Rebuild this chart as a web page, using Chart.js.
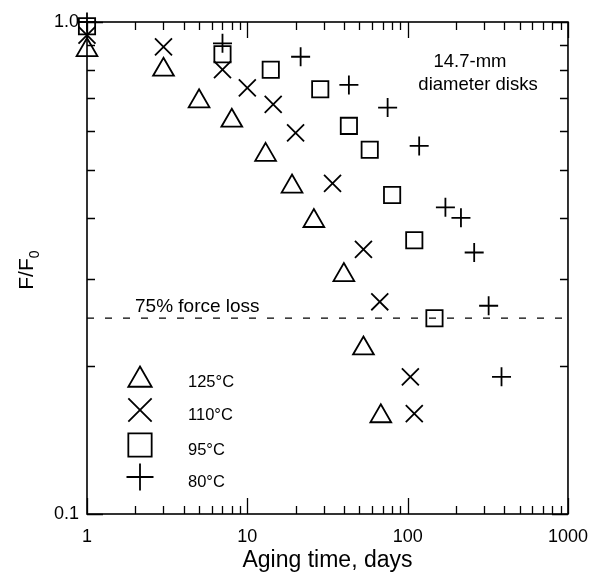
<!DOCTYPE html>
<html>
<head>
<meta charset="utf-8">
<script src="https://cdn.jsdelivr.net/npm/chart.js@4.4.1/dist/chart.umd.min.js"></script>
<style>
  html, body { margin: 0; padding: 0; background: #fff; }
  #wrap { width: 600px; height: 576px; }
</style>
</head>
<body>
<div id="wrap"><canvas id="agingChart"></canvas></div>
<script>
  // ---- data ----
  const seriesNames = ['125°C', '110°C', '95°C', '80°C'];

  const days125 = [1, 3, 5, 8, 13, 19, 26, 40, 53, 68];
  const ratio125 = [0.877, 0.80, 0.69, 0.63, 0.537, 0.463, 0.394, 0.306, 0.217, 0.158];

  const days110 = [1, 3, 7, 10, 14.5, 20, 34, 53, 67, 104, 110];
  const ratio110 = [0.94, 0.89, 0.80, 0.735, 0.68, 0.595, 0.47, 0.345, 0.27, 0.19, 0.16];

  const days95 = [1, 7, 14, 28.5, 43, 58, 80, 110, 147];
  const ratio95 = [0.98, 0.86, 0.80, 0.73, 0.615, 0.55, 0.445, 0.36, 0.25];

  const days80 = [1, 7, 21.5, 43, 75, 118, 172, 215, 260, 320, 385];
  const ratio80 = [1.0, 0.905, 0.85, 0.745, 0.67, 0.56, 0.42, 0.40, 0.34, 0.265, 0.19];

  const forceLossLevel = 0.25;
  const xTickLabels = ['1', '10', '100', '1000'];
  const yTickLabels = ['0.1', '1.0'];

  const pairs = (xs, ys) => xs.map((v, i) => ({ x: v, y: ys[i] }));

  // log ticks 1..9 per decade
  function logTicks(min, max) {
    const out = [];
    for (let dec = min; dec < max - 1e-9; dec *= 10) {
      for (let m = 1; m < 10; m++) out.push(+(dec * m).toPrecision(6));
    }
    out.push(max);
    return out;
  }
  const isMajor = v => Math.abs(Math.log10(v) - Math.round(Math.log10(v))) < 1e-6;

  const FONT = "'Liberation Sans', Arial, Helvetica, sans-serif";
  const markerStyles = ['triangle', 'crossRot', 'rect', 'cross'];
  const markerSizes = [12, 12, 11.5, 9.5];
  const legendSizes = [13.5, 16.5, 16.5, 13.5];

  /* ---------- inward ticks + frame ---------- */
  const frameTicks = {
    id: 'frameTicks',
    afterDraw(chart) {
      const { ctx, chartArea: a, scales: { x, y } } = chart;
      ctx.save();
      ctx.strokeStyle = '#000';
      ctx.lineWidth = 1.3;
      ctx.beginPath();
      x.ticks.forEach(t => {
        const px = Math.round(x.getPixelForValue(t.value)) + 0.5;
        const len = isMajor(t.value) ? 16 : 8;
        ctx.moveTo(px, a.bottom); ctx.lineTo(px, a.bottom - len);
        ctx.moveTo(px, a.top); ctx.lineTo(px, a.top + len);
      });
      y.ticks.forEach(t => {
        const py = Math.round(y.getPixelForValue(t.value)) + 0.5;
        const len = isMajor(t.value) ? 16 : 8;
        ctx.moveTo(a.left, py); ctx.lineTo(a.left + len, py);
        ctx.moveTo(a.right, py); ctx.lineTo(a.right - len, py);
      });
      ctx.stroke();
      ctx.lineWidth = 1.6;
      ctx.strokeRect(a.left, a.top, a.right - a.left, a.bottom - a.top);
      ctx.restore();
    }
  };

  /* ---------- texts, legend, y title ---------- */
  const annotations = {
    id: 'annotations',
    afterDraw(chart) {
      const { ctx, chartArea: a } = chart;
      ctx.save();
      ctx.fillStyle = '#000';
      ctx.textBaseline = 'middle';

      // note top right
      ctx.font = '18.5px ' + FONT;
      ctx.textAlign = 'center';
      ctx.fillText('14.7-mm', a.left + 383, a.top + 40);
      ctx.fillText('diameter disks', a.left + 391, a.top + 63);

      // dashed line label
      ctx.textAlign = 'left';
      ctx.font = '19px ' + FONT;
      ctx.fillText('75% force loss', a.left + 48, a.top + 285);

      // legend
      const rows = [a.top + 355, a.top + 388, a.top + 423, a.top + 455];
      ctx.font = '16.5px ' + FONT;
      seriesNames.forEach((name, i) => {
        ctx.strokeStyle = '#000';
        ctx.fillStyle = 'rgba(0,0,0,0)';
        Chart.helpers.drawPoint(ctx, {
          pointStyle: markerStyles[i], radius: legendSizes[i], rotation: 0, borderWidth: 1.8
        }, a.left + 53, rows[i] + (i === 0 ? 3 : 0));
        ctx.fillStyle = '#000';
        ctx.fillText(name, a.left + 101, rows[i] + 5);
      });

      // y axis title F/F0
      ctx.save();
      ctx.translate(33, 270);
      ctx.rotate(-Math.PI / 2);
      ctx.textAlign = 'left';
      ctx.textBaseline = 'alphabetic';
      ctx.font = '21px ' + FONT;
      const w = ctx.measureText('F/F').width;
      ctx.fillText('F/F', -w / 2 - 4, 0);
      ctx.font = '14px ' + FONT;
      ctx.fillText('0', w / 2 - 4, 6);
      ctx.restore();

      ctx.restore();
    }
  };

  const scatterSet = (label, xs, ys, i) => ({
    type: 'scatter',
    label,
    data: pairs(xs, ys),
    pointStyle: markerStyles[i],
    pointRadius: markerSizes[i],
    pointHoverRadius: markerSizes[i],
    pointBorderWidth: 1.8,
    pointHoverBorderWidth: 1.8,
    borderColor: '#000',
    backgroundColor: 'rgba(0,0,0,0)',
    clip: false
  });

  new Chart(document.getElementById('agingChart'), {
    data: {
      datasets: [
        {
          type: 'line',
          label: '75% force loss',
          data: [{ x: 1, y: forceLossLevel }, { x: 1000, y: forceLossLevel }],
          borderColor: '#000', borderWidth: 1.2, borderDash: [7, 11],
          pointRadius: 0, fill: false
        },
        scatterSet(seriesNames[0], days125, ratio125, 0),
        scatterSet(seriesNames[1], days110, ratio110, 1),
        scatterSet(seriesNames[2], days95, ratio95, 2),
        scatterSet(seriesNames[3], days80, ratio80, 3)
      ]
    },
    options: {
      responsive: true, maintainAspectRatio: false, animation: false,
      layout: { padding: { top: 22, right: 25, left: 0, bottom: 0 } },
      plugins: { legend: { display: false }, tooltip: { enabled: false } },
      scales: {
        x: {
          type: 'logarithmic', min: 1, max: 1000, position: 'bottom',
          afterBuildTicks: s => { s.ticks = logTicks(1, 1000).map(v => ({ value: v })); },
          afterFit: s => { s.height = 62; },
          grid: { display: false, drawTicks: false },
          border: { display: false },
          ticks: {
            autoSkip: false, maxRotation: 0, padding: 12, color: '#000',
            font: { size: 18, family: FONT },
            callback: v => isMajor(v) ? xTickLabels[Math.round(Math.log10(v))] : ''
          },
          title: {
            display: true, text: 'Aging time, days', color: '#000',
            font: { size: 23, family: FONT }, padding: { top: 0, bottom: 2 }
          }
        },
        y: {
          type: 'logarithmic', min: 0.1, max: 1.0,
          afterBuildTicks: s => { s.ticks = logTicks(0.1, 1.0).map(v => ({ value: v })); },
          afterFit: s => { s.width = 87; },
          grid: { display: false, drawTicks: false },
          border: { display: false },
          ticks: {
            autoSkip: false, padding: 8, color: '#000',
            font: { size: 18, family: FONT },
            callback: v => isMajor(v) ? yTickLabels[Math.round(Math.log10(v)) + 1] : ''
          }
        }
      }
    },
    plugins: [frameTicks, annotations]
  });
</script>
</body>
</html>
